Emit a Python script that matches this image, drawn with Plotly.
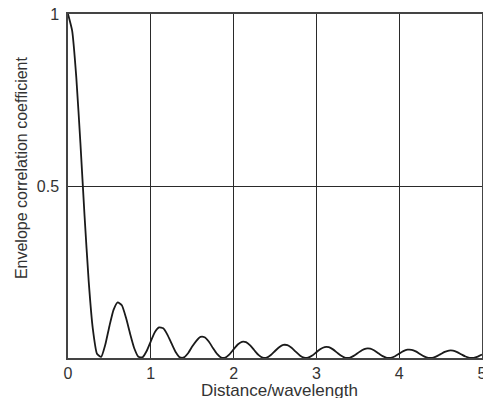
import plotly.graph_objects as go

# Distance / wavelength samples
distance = [round(0.05 * i, 2) for i in range(101)]

# Envelope correlation coefficient
correlation = [
    1.0000, 0.9516, 0.8167, 0.6241, 0.4128, 0.2228, 0.0844, 0.0123, 0.0030, 0.0384,
    0.0925, 0.1399, 0.1618, 0.1533, 0.1174, 0.0707, 0.0285, 0.0038, 0.0020, 0.0202,
    0.0485, 0.0756, 0.0891, 0.0864, 0.0681, 0.0424, 0.0175, 0.0022, 0.0016, 0.0138,
    0.0331, 0.0500, 0.0615, 0.0605, 0.0480, 0.0292, 0.0120, 0.0014, 0.0012, 0.0106,
    0.0252, 0.0392, 0.0471, 0.0460, 0.0366, 0.0225, 0.0091, 0.0011, 0.0010, 0.0085,
    0.0203, 0.0315, 0.0380, 0.0373, 0.0298, 0.0184, 0.0075, 0.0009, 0.0009, 0.0071,
    0.0169, 0.0264, 0.0319, 0.0314, 0.0251, 0.0156, 0.0063, 0.0007, 0.0007, 0.0061,
    0.0145, 0.0227, 0.0275, 0.0271, 0.0217, 0.0135, 0.0055, 0.0006, 0.0006, 0.0053,
    0.0127, 0.0199, 0.0241, 0.0238, 0.0192, 0.0119, 0.0049, 0.0006, 0.0006, 0.0047,
    0.0113, 0.0177, 0.0215, 0.0213, 0.0171, 0.0107, 0.0044, 0.0005, 0.0005, 0.0042,
    0.0101,
]

x_ticks = [0, 1, 2, 3, 4, 5]
x_tick_labels = ["0", "1", "2", "3", "4", "5"]
y_ticks = [0.5, 1]
y_tick_labels = ["0.5", "1"]

fig = go.Figure()
fig.add_trace(go.Scatter(
    x=distance, y=correlation, mode="lines",
    line=dict(color="#1a1a1a", width=1.8, shape="spline", smoothing=0.5),
    showlegend=False, hoverinfo="skip",
))

font_family = "Liberation Sans, Arial, sans-serif"

fig.update_layout(
    width=483, height=398,
    margin=dict(l=68, r=1, t=14, b=40),
    paper_bgcolor="white", plot_bgcolor="white",
    font=dict(family=font_family, color="#222", size=16),
    xaxis=dict(
        range=[0, 5], tickvals=x_ticks, ticktext=x_tick_labels,
        showgrid=True, gridcolor="#2a2a2a", gridwidth=1,
        showline=True, linecolor="#444", linewidth=1.5, mirror=True,
        zeroline=False, ticks="", ticklabelstandoff=0,
        ticklabeloverflow="allow",
        tickfont=dict(size=16, color="#333"),
        automargin=False,
    ),
    yaxis=dict(
        range=[0, 1], tickvals=y_ticks, ticktext=y_tick_labels,
        showgrid=True, gridcolor="#2a2a2a", gridwidth=1,
        showline=True, linecolor="#444", linewidth=1.5, mirror=True,
        zeroline=False, ticks="", ticklabelstandoff=4,
        tickfont=dict(size=16, color="#333"),
        automargin=False,
    ),
    annotations=[
        dict(
            text="Envelope correlation coefficient", textangle=-90,
            xref="paper", yref="paper", x=-0.1135, y=0.552,
            xanchor="center", yanchor="middle", showarrow=False,
            font=dict(size=16, color="#333"),
        ),
        dict(
            text="Distance/wavelength",
            xref="paper", yref="paper", x=0.512, y=-0.094,
            xanchor="center", yanchor="middle", showarrow=False,
            font=dict(size=17, color="#333"),
        ),
    ],
)

fig.write_html("out.html")
